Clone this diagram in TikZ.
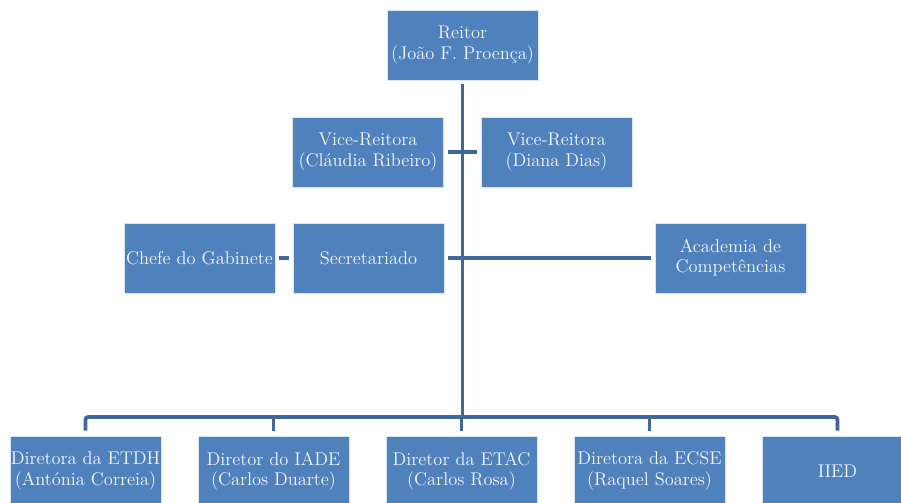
\documentclass[tikz,border=0pt]{standalone}
\usepackage{fontspec}
\definecolor{boxblue}{HTML}{4F81BD}
\definecolor{lineblue}{HTML}{3F679B}
\definecolor{txt}{HTML}{F4F6FA}
\begin{document}
\begin{tikzpicture}[x=0.75pt,y=-0.75pt,
  box/.style={fill=boxblue, draw=white!80!boxblue, line width=0.4pt, text=txt,
    font=\fontsize{13.8}{15.3}\selectfont\addfontfeatures{FakeBold=0.6}, align=center,
    minimum width=113.25pt, minimum height=52.5pt, inner sep=0pt},
  conn/.style={draw=lineblue, line width=2.8pt}]
\useasboundingbox (0,0) rectangle (901,503);
\clip (0,0) rectangle (901,503);
\node[box] (reitor) at (462.5,45) {Reitor\\(João F. Proença)};
\node[box] (vl) at (368,152) {Vice-Reitora\\(Cláudia Ribeiro)};
\node[box] (vr) at (556.5,152) {Vice-Reitora\\(Diana Dias)};
\node[box] (chefe) at (199.5,258) {Chefe do Gabinete};
\node[box] (sec) at (368.5,258) {Secretariado};
\node[box] (acad) at (730.5,258) {Academia de\\Competências};
\node[box] (b1) at (85.5,471) {Diretora da ETDH\\(Antónia Correia)};
\node[box] (b2) at (273.5,471) {Diretor do IADE\\(Carlos Duarte)};
\node[box] (b3) at (461.5,471) {Diretor da ETAC\\(Carlos Rosa)};
\node[box] (b4) at (649.5,471) {Diretora da ECSE\\(Raquel Soares)};
\node[box] (b5) at (837.5,471) {IIED};
\coordinate (top) at ([yshift=-3pt]reitor.south);
\coordinate (bar) at (462,417);
\draw[conn] (top) -- (top |- bar);
\draw[conn] ([xshift=3pt]vl.east) -- ([xshift=-3pt]vr.west);
\draw[conn] ([xshift=3pt]chefe.east) -- ([xshift=-3pt]sec.west);
\draw[conn] ([xshift=3pt]sec.east) -- ([xshift=-3pt]acad.west);
\draw[conn, rounded corners=2pt] ([yshift=3.75pt]b1.north) |- (bar) -| ([yshift=3.75pt]b5.north);
\draw[conn] ([yshift=3.75pt]b2.north) -- (b2 |- bar);
\draw[conn] ([yshift=3.75pt]b3.north) -- (b3 |- bar);
\draw[conn] ([yshift=3.75pt]b4.north) -- (b4 |- bar);
\end{tikzpicture}
\end{document}
